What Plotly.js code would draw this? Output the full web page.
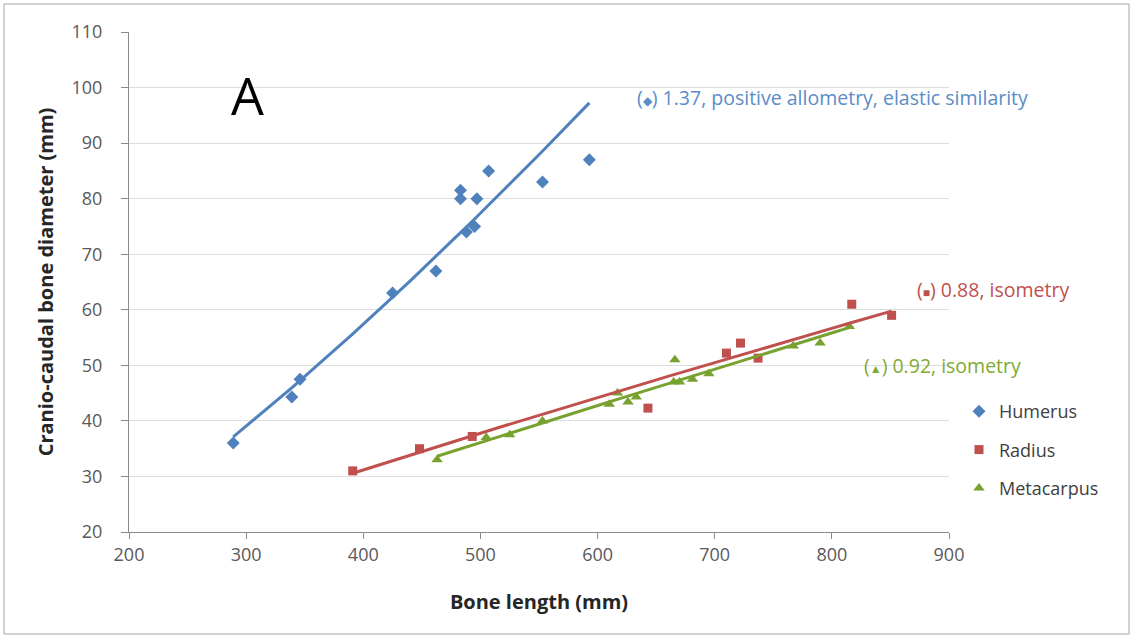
<!DOCTYPE html>
<html>
<head>
<meta charset="utf-8">
<script src="https://cdn.plot.ly/plotly-3.0.1.min.js"></script>
<style>
html,body{margin:0;padding:0;background:#fff;}
#chart{width:1134px;height:639px;}
</style>
</head>
<body>
<div id="chart"></div>
<script>
// ---- data ----
const humerusX = [289, 339, 346, 425, 462, 483, 483, 488, 495, 497, 507, 553, 593];
const humerusY = [36, 44.3, 47.5, 63, 67, 81.5, 80, 74, 75, 80, 85, 83, 87];

const radiusX = [391, 448, 493, 643, 710, 722, 737, 817, 851];
const radiusY = [31, 35, 37.2, 42.3, 52.2, 54, 51.3, 61, 59];

const metacarpusX = [463, 505, 525, 553, 610, 617, 626, 633, 665, 666, 670, 681, 695, 767, 790, 815];
const metacarpusY = [33, 37, 37.5, 40, 43, 45, 43.4, 44.3, 47, 51, 47, 47.5, 48.5, 53.5, 54, 57];

const seriesNames = ["Humerus", "Radius", "Metacarpus"];
const xTicks = [200, 300, 400, 500, 600, 700, 800, 900];
const yTicks = [20, 30, 40, 50, 60, 70, 80, 90, 100, 110];
const noteTexts = [
  "1.37, positive allometry, elastic similarity",
  "0.88, isometry",
  "0.92, isometry"
];

// ---- styles ----
const blue = "#4F81BD", red = "#C0504D", green = "#78A22F";
const font = "'Open Sans', 'Liberation Sans', sans-serif";

// power trendline (least squares on log-log), drawn over the data range
function powerFit(xs, ys) {
  const n = xs.length;
  let sx = 0, sy = 0, sxx = 0, sxy = 0;
  for (let i = 0; i < n; i++) {
    const lx = Math.log(xs[i]), ly = Math.log(ys[i]);
    sx += lx; sy += ly; sxx += lx * lx; sxy += lx * ly;
  }
  const b = (n * sxy - sx * sy) / (n * sxx - sx * sx);
  const a = Math.exp((sy - b * sx) / n);
  const lo = Math.min(...xs), hi = Math.max(...xs);
  const fx = [], fy = [];
  const steps = 60;
  for (let k = 0; k <= steps; k++) {
    const x = lo + (hi - lo) * k / steps;
    fx.push(x); fy.push(a * Math.pow(x, b));
  }
  return {x: fx, y: fy};
}

const fH = powerFit(humerusX, humerusY);
const fR = powerFit(radiusX, radiusY);
const fM = powerFit(metacarpusX, metacarpusY);

const traces = [
  {x: humerusX, y: humerusY, name: seriesNames[0], type: "scatter", mode: "markers",
   marker: {symbol: "diamond", size: 10, color: blue}, legendgroup: "h"},
  {x: radiusX, y: radiusY, name: seriesNames[1], type: "scatter", mode: "markers",
   marker: {symbol: "square", size: 9, color: red}, legendgroup: "r"},
  {x: metacarpusX, y: metacarpusY, name: seriesNames[2], type: "scatter", mode: "markers",
   marker: {symbol: "triangle-up", size: 10, color: green}, legendgroup: "m"},
  {x: fH.x, y: fH.y, type: "scatter", mode: "lines", line: {color: blue, width: 3},
   showlegend: false, hoverinfo: "skip"},
  {x: fM.x, y: fM.y, type: "scatter", mode: "lines", line: {color: green, width: 3},
   showlegend: false, hoverinfo: "skip"},
  {x: fR.x, y: fR.y, type: "scatter", mode: "lines", line: {color: red, width: 3},
   showlegend: false, hoverinfo: "skip"}
];

const L = 129, R = 185, T = 32, B = 107, W = 1134, H = 639;
const pw = W - L - R, ph = H - T - B;
function px(xp) { return (xp - L) / pw; }
function py(yp) { return (H - B - yp) / ph; }

const layout = {
  width: W, height: H,
  margin: {l: L, r: R, t: T, b: B, pad: 0},
  paper_bgcolor: "#ffffff", plot_bgcolor: "#ffffff",
  font: {family: font, color: "#595959", size: 18},
  showlegend: true,
  legend: {
    x: px(959), y: py(393), xanchor: "left", yanchor: "top",
    font: {family: font, size: 18, color: "#404040"},
    traceorder: "grouped", tracegroupgap: 12, itemwidth: 30,
    bgcolor: "rgba(0,0,0,0)"
  },
  xaxis: {
    range: [200, 900], tickvals: xTicks, ticktext: xTicks.map(String),
    showgrid: false, zeroline: false,
    showline: true, linecolor: "#8c8c8c", linewidth: 1,
    ticks: "outside", ticklen: 6, tickcolor: "#8c8c8c",
    tickfont: {family: font, size: 18, color: "#595959"},
    title: {text: "<b>Bone length (mm)</b>", standoff: 30,
            font: {family: font, size: 20, color: "#262626"}}
  },
  yaxis: {
    range: [20, 110], tickvals: yTicks, ticktext: yTicks.map(String),
    showgrid: true, gridcolor: "#dedede", gridwidth: 1, zeroline: false,
    showline: true, linecolor: "#8c8c8c", linewidth: 1,
    ticks: "outside", ticklen: 7, tickcolor: "#8c8c8c", ticklabelstandoff: 15,
    tickfont: {family: font, size: 18, color: "#595959"},
    title: {text: "<b>Cranio-caudal bone diameter (mm)</b>", standoff: 12,
            font: {family: font, size: 20, color: "#262626"}}
  },
  annotations: [
    {x: 301, y: 98.7, xref: "x", yref: "y", text: "A", showarrow: false,
     font: {family: font, size: 52, color: "#000000"}},
    {x: 632, y: 98.3, xref: "x", yref: "y", xanchor: "left", showarrow: false,
     text: "(<span style='font-size:12px'>◆</span>) " + noteTexts[0],
     font: {family: font, size: 19.5, color: "#5B8CC8"}},
    {x: 871, y: 63.7, xref: "x", yref: "y", xanchor: "left", showarrow: false,
     text: "(<span style='font-size:12px'>■</span>) " + noteTexts[1],
     font: {family: font, size: 19.5, color: "#C0504D"}},
    {x: 826, y: 49.9, xref: "x", yref: "y", xanchor: "left", showarrow: false,
     text: "(<span style='font-size:12px'>▲</span>) " + noteTexts[2],
     font: {family: font, size: 19.5, color: "#7FAA32"}}
  ],
  shapes: [
    {type: "rect", xref: "paper", yref: "paper",
     x0: px(4), x1: px(1129), y0: py(634), y1: py(4),
     line: {color: "#a6a6a6", width: 1}, fillcolor: "rgba(0,0,0,0)", layer: "below"}
  ]
};

Plotly.newPlot("chart", traces, layout, {displayModeBar: false, staticPlot: true});
</script>
</body>
</html>
